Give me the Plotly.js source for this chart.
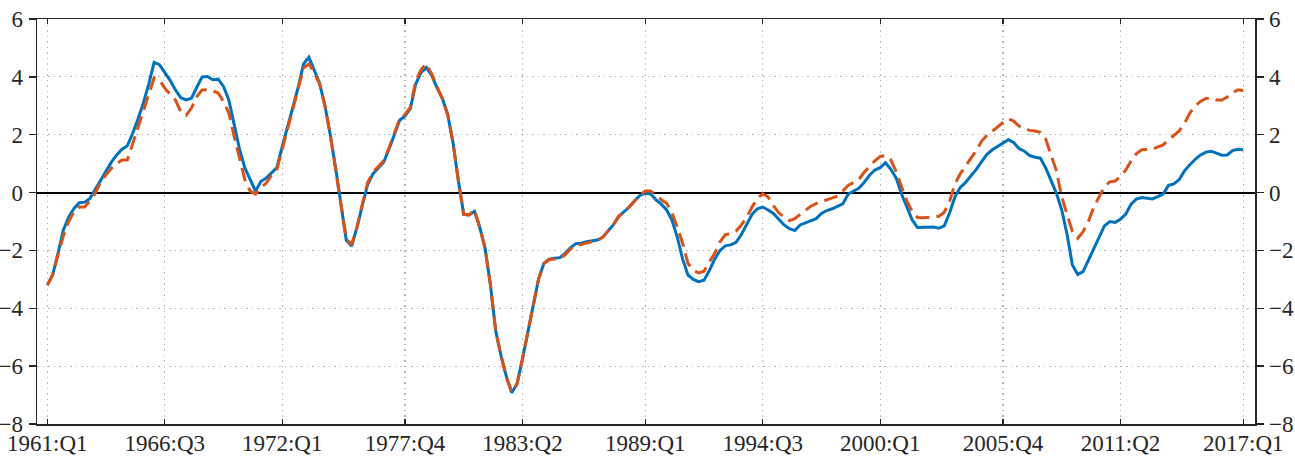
<!DOCTYPE html>
<html>
<head>
<meta charset="utf-8">
<script src="https://cdn.plot.ly/plotly-3.0.1.min.js"></script>
<style>html,body{margin:0;padding:0;background:#fff;}#chart{width:1295px;height:456px;}</style>
</head>
<body>
<div id="chart"></div>
<script>
// Quarterly periods 1961:Q1 .. 2017:Q1
var startYear = 1961;
var nQuarters = 225;
var quarters = [];
for (var i = 0; i < nQuarters; i++) {
  quarters.push((startYear + Math.floor(i / 4)) + ':Q' + (i % 4 + 1));
}

var tickLabels = ['1961:Q1','1966:Q3','1972:Q1','1977:Q4','1983:Q2','1989:Q1','1994:Q3','2000:Q1','2005:Q4','2011:Q2','2017:Q1'];
var yTicks = [-8,-6,-4,-2,0,2,4,6];

// Solid blue series
var seriesA = [
-3.2,-2.85,-2.1,-1.3,-0.85,-0.55,-0.35,-0.33,-0.2,0.12,
0.45,0.72,1.05,1.3,1.5,1.62,2.05,2.55,3.1,3.75,
4.5,4.42,4.15,3.88,3.55,3.28,3.2,3.26,3.64,4.0,
4.01,3.9,3.92,3.67,3.2,2.35,1.5,0.85,0.45,0.05,
0.38,0.5,0.68,0.86,1.6,2.25,2.95,3.65,4.45,4.68,
4.25,3.78,3.0,2.0,0.85,-0.45,-1.65,-1.85,-1.2,-0.45,
0.28,0.65,0.85,1.05,1.5,2.0,2.5,2.65,2.9,3.75,
4.15,4.32,4.05,3.62,3.25,2.69,1.71,0.4,-0.75,-0.77,
-0.65,-1.2,-1.93,-3.2,-4.8,-5.65,-6.37,-6.92,-6.6,-5.75,
-4.8,-3.85,-3.0,-2.45,-2.3,-2.27,-2.25,-2.1,-1.9,-1.77,
-1.75,-1.7,-1.66,-1.64,-1.55,-1.32,-1.12,-0.83,-0.67,-0.5,
-0.28,-0.1,-0.02,-0.05,-0.25,-0.4,-0.6,-0.95,-1.55,-2.3,
-2.85,-3.0,-3.08,-3.03,-2.7,-2.3,-2.0,-1.84,-1.81,-1.72,
-1.45,-1.1,-0.75,-0.56,-0.5,-0.6,-0.72,-0.92,-1.12,-1.25,
-1.31,-1.12,-1.04,-0.98,-0.9,-0.72,-0.62,-0.56,-0.48,-0.39,
-0.05,0.05,0.15,0.35,0.6,0.78,0.86,1.03,0.8,0.5,
-0.05,-0.5,-0.95,-1.21,-1.2,-1.18,-1.19,-1.23,-1.15,-0.7,
-0.15,0.18,0.35,0.58,0.8,1.07,1.32,1.48,1.6,1.72,
1.83,1.73,1.52,1.43,1.28,1.22,1.19,0.85,0.4,-0.02,
-0.6,-1.45,-2.5,-2.83,-2.73,-2.35,-1.95,-1.55,-1.15,-1.0,
-1.03,-0.92,-0.74,-0.4,-0.22,-0.17,-0.19,-0.22,-0.14,-0.05,
0.25,0.3,0.45,0.75,0.96,1.15,1.3,1.4,1.43,1.36,
1.29,1.3,1.45,1.5,1.48
];

// Dashed orange series
var seriesB = [
-3.2,-2.85,-2.15,-1.5,-1.0,-0.66,-0.5,-0.5,-0.28,-0.02,
0.38,0.62,0.84,1.0,1.13,1.13,1.7,2.3,2.86,3.45,
3.96,3.9,3.61,3.4,3.2,2.8,2.67,2.92,3.32,3.55,
3.56,3.52,3.44,3.15,2.75,1.94,1.19,0.45,0.05,-0.05,
0.18,0.32,0.6,0.8,1.5,2.2,2.95,3.6,4.3,4.45,
4.15,3.75,3.0,2.0,0.85,-0.45,-1.6,-1.8,-1.2,-0.4,
0.35,0.7,0.9,1.1,1.55,2.05,2.55,2.7,2.95,3.85,
4.25,4.45,4.1,3.65,3.25,2.69,1.71,0.4,-0.75,-0.77,
-0.6,-1.2,-1.93,-3.2,-4.8,-5.65,-6.4,-6.9,-6.6,-5.75,
-4.8,-3.85,-3.0,-2.45,-2.32,-2.3,-2.27,-2.15,-1.95,-1.83,
-1.8,-1.74,-1.7,-1.66,-1.55,-1.32,-1.12,-0.83,-0.67,-0.5,
-0.3,-0.08,0.05,0.05,-0.08,-0.25,-0.37,-0.7,-1.2,-1.75,
-2.45,-2.68,-2.78,-2.72,-2.4,-2.1,-1.7,-1.45,-1.42,-1.33,
-1.12,-0.85,-0.5,-0.2,-0.04,-0.15,-0.45,-0.7,-0.85,-0.97,
-0.9,-0.75,-0.6,-0.47,-0.38,-0.3,-0.25,-0.18,-0.12,0.05,
0.25,0.35,0.45,0.7,0.9,1.1,1.25,1.28,1.13,0.72,
0.2,-0.3,-0.65,-0.86,-0.87,-0.85,-0.85,-0.82,-0.68,-0.3,
0.3,0.65,0.92,1.18,1.45,1.78,1.98,2.12,2.28,2.42,
2.55,2.47,2.3,2.2,2.15,2.13,2.08,1.85,1.3,0.75,
-0.15,-0.75,-1.35,-1.58,-1.35,-1.0,-0.5,-0.15,0.2,0.37,
0.4,0.55,0.78,1.1,1.35,1.48,1.5,1.5,1.58,1.65,
1.82,1.98,2.13,2.4,2.75,3.0,3.15,3.25,3.27,3.2,
3.2,3.3,3.45,3.55,3.53
];

function serifFont() {
  return {family: 'Liberation Serif', size: 23, color: '#262626'};
}

var traces = [
  {x: quarters, y: seriesA, type: 'scatter', mode: 'lines',
   line: {color: '#0072BD', width: 3}, hoverinfo: 'skip'},
  {x: quarters, y: seriesB, type: 'scatter', mode: 'lines',
   line: {color: '#D95319', width: 3, dash: '14px,7px'}, hoverinfo: 'skip'},
  {x: [quarters[0]], y: [0], yaxis: 'y2', type: 'scatter', mode: 'lines',
   line: {width: 0}, hoverinfo: 'skip', showlegend: false}
];

var layout = {
  width: 1295, height: 456,
  margin: {l: 37, r: 40, t: 19, b: 32, pad: 0},
  paper_bgcolor: '#ffffff', plot_bgcolor: '#ffffff',
  showlegend: false,
  font: serifFont(),
  xaxis: {
    type: 'category',
    range: [-1.93, 226.2],
    tickmode: 'array',
    tickvals: tickLabels,
    ticktext: tickLabels,
    ticks: 'inside', ticklen: 5, tickwidth: 1.3, tickcolor: '#262626',
    showline: true, linecolor: '#262626', linewidth: 1.5, mirror: 'ticks',
    showgrid: true, gridcolor: '#b5b5b5', gridwidth: 1.2, griddash: '1.5px,4px',
    zeroline: false,
    tickfont: serifFont(), ticklabelstandoff: -2,
    fixedrange: true
  },
  yaxis: {
    range: [-8, 6],
    tickmode: 'array', tickvals: yTicks,
    ticks: 'outside', ticklen: 7, tickwidth: 1.3, tickcolor: '#262626',
    showline: true, linecolor: '#262626', linewidth: 1.5, mirror: true,
    showgrid: true, gridcolor: '#b5b5b5', gridwidth: 1.2, griddash: '1.5px,4px',
    zeroline: true, zerolinecolor: '#000000', zerolinewidth: 2,
    tickfont: serifFont(), ticklabelstandoff: 1,
    fixedrange: true
  },
  yaxis2: {
    overlaying: 'y', side: 'right',
    range: [-8, 6],
    tickmode: 'array', tickvals: yTicks,
    ticks: 'outside', ticklen: 7, tickwidth: 1.3, tickcolor: '#262626',
    showline: true, linecolor: '#262626', linewidth: 1.5,
    showgrid: false, zeroline: false,
    tickfont: serifFont(), ticklabelstandoff: 1,
    fixedrange: true
  }
};

Plotly.newPlot('chart', traces, layout, {staticPlot: true, displayModeBar: false});
</script>
</body>
</html>
